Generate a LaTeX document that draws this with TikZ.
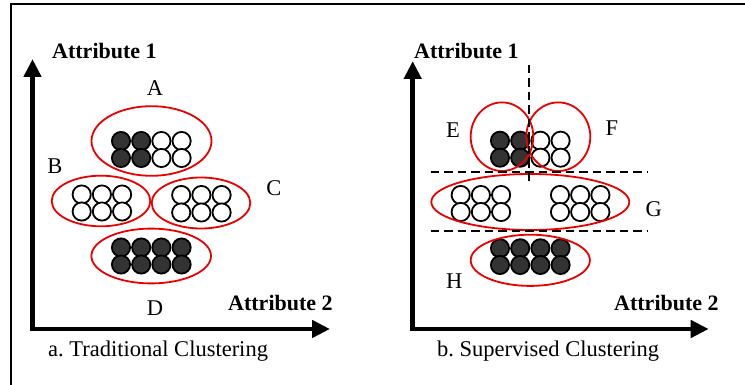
\documentclass[tikz,border=0pt]{standalone}
\usepackage{fontspec}
\setmainfont{Liberation Serif}
\usetikzlibrary{shapes.geometric,arrows.meta}
\definecolor{dotgray}{RGB}{51,51,51}
\definecolor{clred}{RGB}{235,0,0}
\frenchspacing
\begin{document}
\begin{tikzpicture}[x=1pt,y=-1pt,
  lbl/.style={font=\fontsize{22.5}{26}\selectfont, inner sep=0pt},
  axlbl/.style={font=\fontsize{22}{26}\selectfont\bfseries, inner sep=0pt},
  clus/.style={draw=clred, line width=1.8pt, ellipse, inner sep=0pt},
  dot/.style={circle, draw=black, line width=1.8pt, minimum size=18.2pt, inner sep=0pt},
  blk/.style={dot, fill=dotgray},
  wht/.style={dot, fill=white},
  axis/.style={line width=4.5pt, line join=miter,
    {Triangle[length=18pt,width=17pt]}-{Triangle[length=18pt,width=17pt]}},
  sep/.style={line width=2.2pt, dash pattern=on 8.5pt off 5pt}
]
\useasboundingbox (0,0) rectangle (745,385);
% frame
\coordinate (fbl) at (10.5,386);
\coordinate (ftl) at (10.5,4);
\coordinate (ftr) at (746,4);
\draw[line width=2pt] (fbl) -- (ftl) -- (ftr);

% ---------- left panel ----------
\coordinate (ltop) at (32.5,59);
\coordinate (lorg) at (32.5,329);
\coordinate (lrt) at (330,329);
\draw[axis] (ltop) -- (lorg) -- (lrt);

% A
\foreach \x [count=\i] in {121,141.2} \foreach \y [count=\j] in {141,158}
  \node[blk] (A-\i-\j) at (\x,\y) {};
\foreach \x [count=\i from 3] in {161.4,181.6} \foreach \y [count=\j] in {141,158}
  \node[wht] (A-\i-\j) at (\x,\y) {};
% B
\foreach \x [count=\i] in {81.7,101.9,122.1} \foreach \y [count=\j] in {194.5,211.5}
  \node[wht] (B-\i-\j) at (\x,\y) {};
% C
\foreach \x [count=\i] in {181.2,201.4,221.6} \foreach \y [count=\j] in {195,212.5}
  \node[wht] (C-\i-\j) at (\x,\y) {};
% D
\foreach \x [count=\i] in {121,141.2,161.4,181.6} \foreach \y [count=\j] in {247.5,264.5}
  \node[blk] (D-\i-\j) at (\x,\y) {};

\node[clus, minimum width=120pt, minimum height=69.6pt] (clA) at (151.5,141) {};
\node[clus, minimum width=98.6pt, minimum height=50.6pt] (clB) at (101,201) {};
\node[clus, minimum width=98.6pt, minimum height=51pt] (clC) at (201,203) {};
\node[clus, minimum width=119.6pt, minimum height=54.8pt] (clD) at (151.2,256) {};

\node[lbl, anchor=base] (tA) at (155,96) {A};
\node[lbl, anchor=base] (tB) at (55,173.3) {B};
\node[lbl, anchor=base] (tC) at (274,196) {C};
\node[lbl, anchor=base] (tD) at (155,315.7) {D};
\node[axlbl, anchor=base west] (lat1) at (52,59) {Attribute 1};
\node[axlbl, anchor=base west] (lat2) at (228,310) {Attribute 2};
\node[lbl, anchor=base west] (capa) at (48,356) {a. Traditional Clustering};

% ---------- right panel ----------
\coordinate (rtop) at (412.7,61);
\coordinate (rorg) at (412.7,329);
\coordinate (rrt) at (708.7,329);
\draw[axis] (rtop) -- (rorg) -- (rrt);

% E/F
\foreach \x [count=\i] in {500,520.2} \foreach \y [count=\j] in {140.7,157.7}
  \node[blk] (E-\i-\j) at (\x,\y) {};
\foreach \x [count=\i from 3] in {540.4,560.6} \foreach \y [count=\j] in {140.7,157.7}
  \node[wht] (E-\i-\j) at (\x,\y) {};
% G
\foreach \x [count=\i] in {460.7,480.9,501.1,560,580.2,600.4} \foreach \y [count=\j] in {195,212}
  \node[wht] (G-\i-\j) at (\x,\y) {};
% H
\foreach \x [count=\i] in {500,520.2,540.4,560.6} \foreach \y [count=\j] in {248.3,265}
  \node[blk] (H-\i-\j) at (\x,\y) {};

\node[clus, minimum width=62.6pt, minimum height=68.6pt] (clE) at (502,136.7) {};
\node[clus, minimum width=64pt, minimum height=68.6pt] (clF) at (558.3,136.7) {};
\node[clus, minimum width=198pt, minimum height=56pt] (clG) at (530.3,202) {};
\node[clus, minimum width=119.2pt, minimum height=51.2pt] (clH) at (530.3,260.3) {};

% separators
\coordinate (vtop) at (529.3,65);
\coordinate (vbot) at (529.3,183);
\coordinate (h1l) at (430.7,171.7);
\coordinate (h1r) at (647,171.7);
\coordinate (h2l) at (430.7,230.7);
\coordinate (h2r) at (647,230.7);
\draw[sep] (vtop) -- (vbot);
\draw[sep] (h1l) -- (h1r);
\draw[sep] (h2l) -- (h2r);

\node[lbl, anchor=base] (tE) at (453,137.3) {E};
\node[lbl, anchor=base] (tF) at (612,136) {F};
\node[lbl, anchor=base] (tG) at (653.7,216.7) {G};
\node[lbl, anchor=base] (tH) at (454.3,288.3) {H};
\node[axlbl, anchor=base west] (rat1) at (414,59) {Attribute 1};
\node[axlbl, anchor=base west] (rat2) at (614,310) {Attribute 2};
\node[lbl, anchor=base west] (capb) at (437,356) {b. Supervised Clustering};
\end{tikzpicture}
\end{document}
